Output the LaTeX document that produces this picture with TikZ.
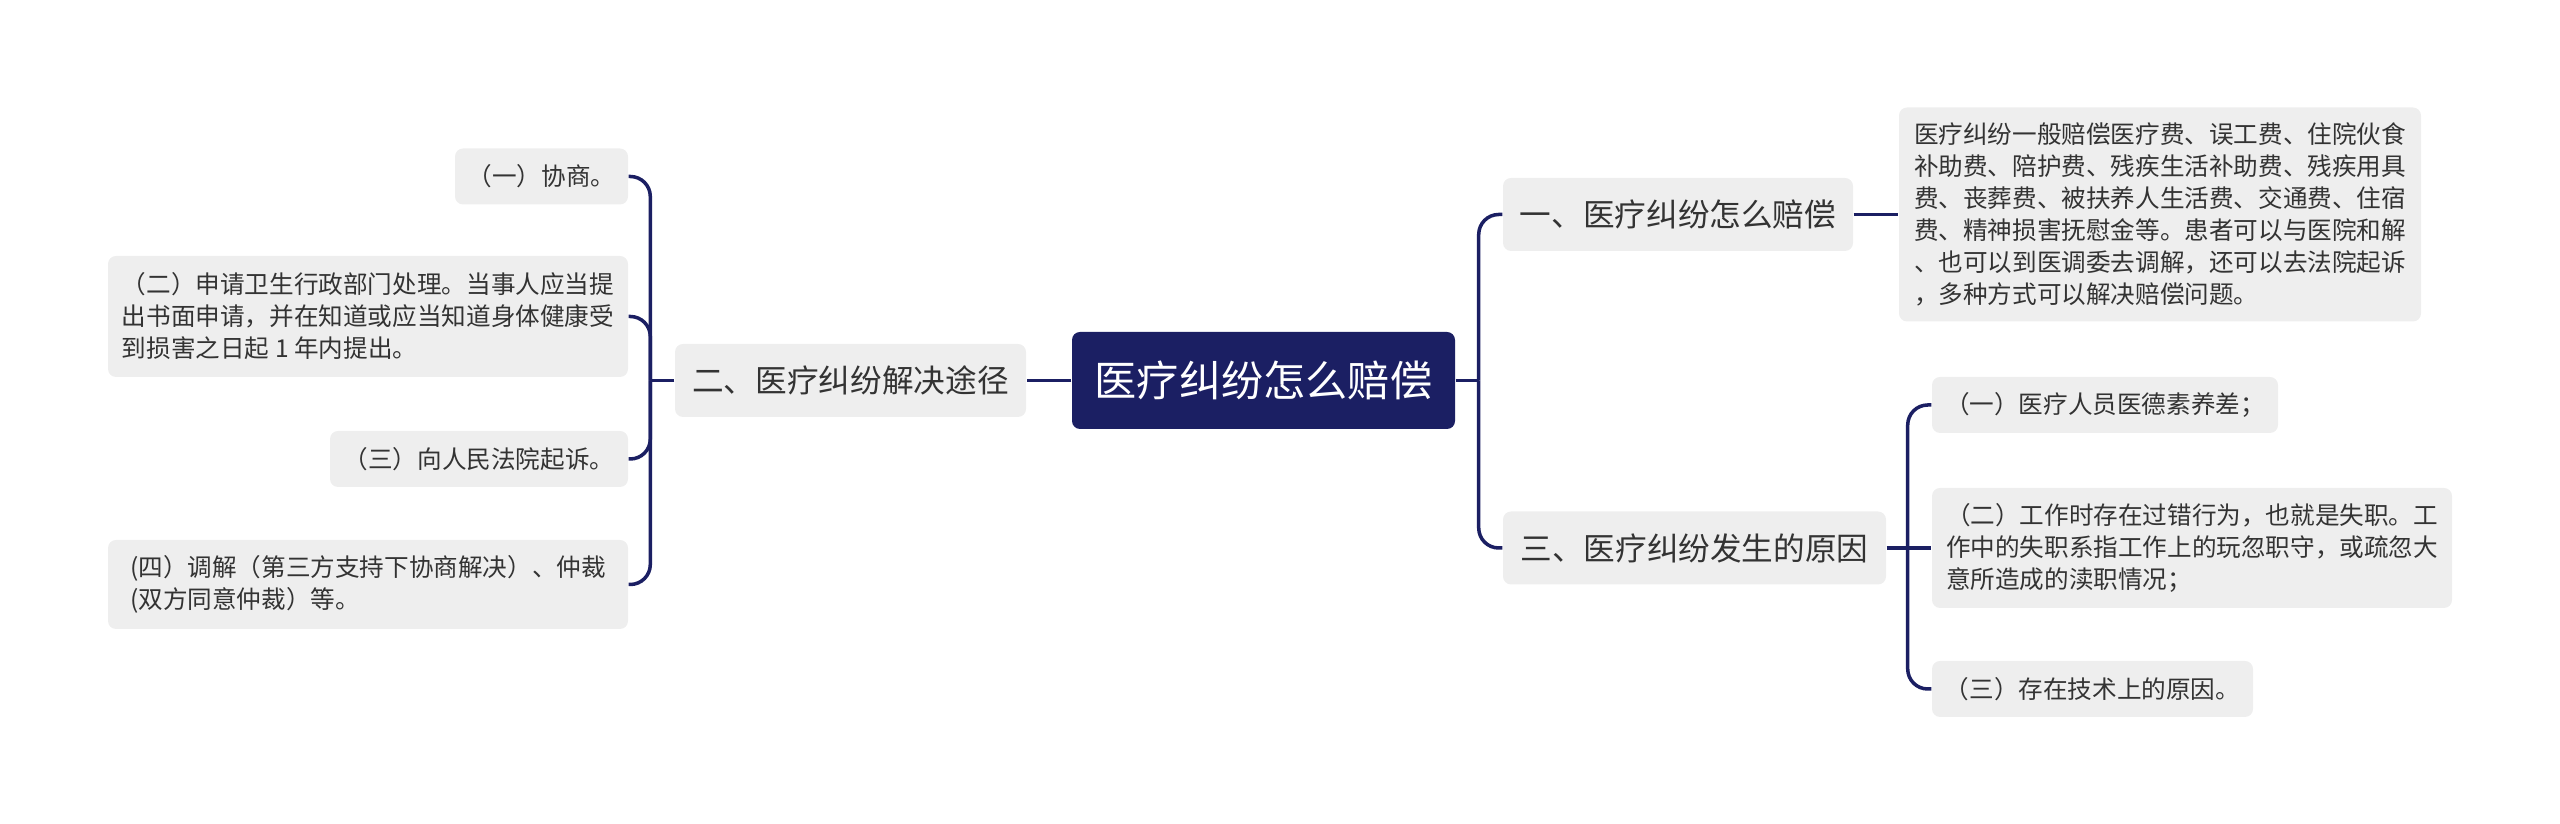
\documentclass[tikz,border=0pt]{standalone}
\usepackage{fontspec}
\setmainfont{Noto Sans CJK SC}
\usetikzlibrary{calc, positioning}
\definecolor{navy}{HTML}{1B1F63}
\definecolor{boxgray}{HTML}{EEEEEE}
\definecolor{ink}{HTML}{333333}
\tikzset{
  hub/.style   ={rounded corners=0.08cm, fill=navy, text=white, inner sep=0pt, minimum width=3.83cm, minimum height=0.97cm, font=\fontsize{12pt}{14pt}\selectfont},
  topic/.style ={rounded corners=0.08cm, fill=boxgray, text=ink, inner sep=0pt, minimum height=0.73cm, font=\fontsize{9pt}{11pt}\selectfont},
  leaf/.style  ={rounded corners=0.08cm, fill=boxgray, text=ink, inner sep=0pt, minimum height=0.56cm, align=left, font=\fontsize{7pt}{9.1pt}\selectfont},
  link/.style  ={draw=navy, line width=1pt, rounded corners=0.2cm},   % branch connector
}
\begin{document}
\begin{tikzpicture}
  \useasboundingbox (0,0) rectangle (25.6,-8.24);
  % centre and main branches
  \node[hub] (r) at (12.635,-3.805) {医疗纠纷怎么赔偿};
  \node[topic, minimum width=3.51cm] (t2) at (8.505,-3.805) {二、医疗纠纷解决途径};
  \node[topic, minimum width=3.50cm] (t1) at (16.78,-2.145) {一、医疗纠纷怎么赔偿};
  \node[topic, minimum width=3.83cm] (t3) at (16.945,-5.48) {三、医疗纠纷发生的原因};
  % left leaves
  \node[leaf, minimum width=1.73cm] (l1) at (5.415,-1.765) {（一）协商。};
  \node[leaf, minimum width=5.20cm, minimum height=1.21cm] (l2) at (3.68,-3.165)
    {（二）申请卫生行政部门处理。当事人应当提\\出书面申请，并在知道或应当知道身体健康受\\到损害之日起 1 年内提出。};
  \node[leaf, minimum width=2.98cm] (l3) at (4.79,-4.59) {（三）向人民法院起诉。};
  \node[leaf, minimum width=5.20cm, minimum height=0.89cm] (l4) at (3.68,-5.845)
    {(四）调解（第三方支持下协商解决）、仲裁\\(双方同意仲裁）等。};
  % right leaves
  \node[leaf, minimum width=5.22cm, minimum height=2.14cm] (d1) at (21.6,-2.145)
    {医疗纠纷一般赔偿医疗费、误工费、住院伙食\\补助费、陪护费、残疾生活补助费、残疾用具\\费、丧葬费、被扶养人生活费、交通费、住宿\\费、精神损害抚慰金等。患者可以与医院和解\\、也可以到医调委去调解，还可以去法院起诉\\，多种方式可以解决赔偿问题。};
  \node[leaf, minimum width=3.46cm] (c1) at (21.05,-4.05) {（一）医疗人员医德素养差；};
  \node[leaf, minimum width=5.20cm, minimum height=1.20cm] (c2) at (21.92,-5.48)
    {（二）工作时存在过错行为，也就是失职。工\\作中的失职系指工作上的玩忽职守，或疏忽大\\意所造成的渎职情况；};
  \node[leaf, minimum width=3.21cm] (c3) at (20.925,-6.89) {（三）存在技术上的原因。};
  % connectors
  \coordinate (lj) at ($(t2.west)+(-0.24,0)$);
  \coordinate (rj) at ($(r.east)+(0.23,0)$);
  \coordinate (cj) at ($(t3.east)+(0.21,0)$);
  \draw[link] (r.west) -- (t2.east);
  \draw[link] (t2.west) -- (lj);
  \foreach \n in {l1,l2,l3,l4} \draw[link] (lj) |- (\n.east);
  \draw[link] (r.east) -- (rj);
  \foreach \n in {t1,t3} \draw[link] (rj) |- (\n.west);
  \draw[link] (t1.east) -- (d1.west);
  \draw[link] (t3.east) -- (c2.west);
  \foreach \n in {c1,c3} \draw[link] (cj) |- (\n.west);
\end{tikzpicture}
\end{document}
